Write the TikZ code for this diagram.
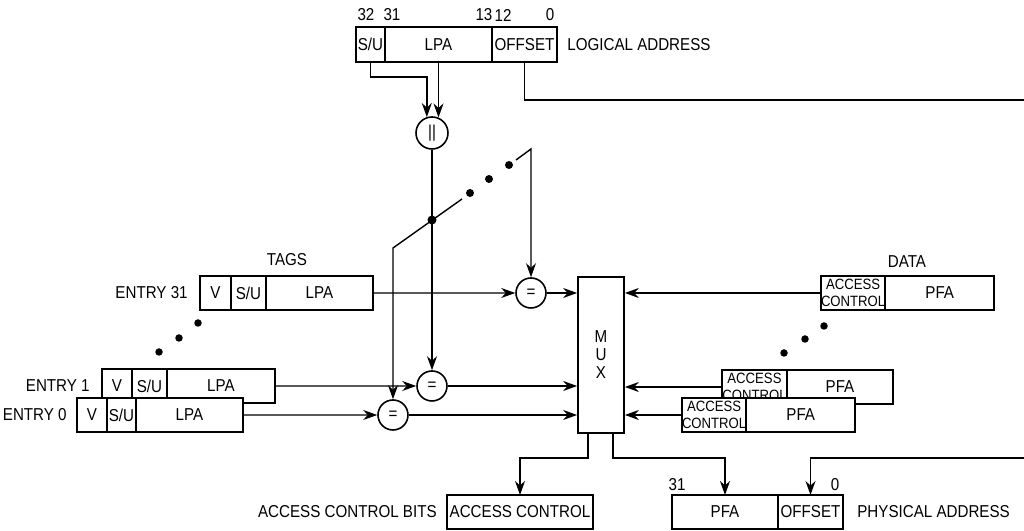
\documentclass[tikz,border=0pt]{standalone}
\usepackage{fontspec}
\setmainfont[FakeStretch=0.88]{Liberation Sans}
\usetikzlibrary{arrows.meta,positioning}
\newcommand{\lblfont}{\fontsize{9.8}{10.2}\selectfont}
\newcommand{\acfont}{\fontsize{8.5}{9.4}\selectfont}
\tikzset{
  >={Stealth[length=2.8mm,width=2mm]},
  fld/.style={draw,fill=white,line width=1pt,inner sep=0pt,outer sep=0pt,
    minimum width=#1,minimum height=6.8mm,font=\lblfont},
  fld/.default=10mm,
  acfld/.style={fld=#1,font=\acfont,align=center},
  cmp/.style={circle,draw,fill=white,line width=0.9pt,minimum size=6mm,
    inner sep=0pt,font=\lblfont},
  flow/.style={->,line width=0.8pt},
  tag/.style={font=\lblfont,inner sep=1mm},
  junction/.style={circle,fill,inner sep=0pt,minimum size=1.8mm},
}
\begin{document}
\begin{tikzpicture}[x=0.2mm,y=-0.2mm]
  \useasboundingbox (0,0) rectangle (1024,531);
  \clip (0,0) rectangle (1024,531);
  % logical address
  \node[fld=5.8mm,minimum height=7mm,anchor=north west] (lsu) at (356,27) {S/U};
  \node[fld=21.4mm,minimum height=7mm,right=0pt of lsu] (llpa) {LPA};
  \node[fld=13mm,minimum height=7mm,right=0pt of llpa] (loff) {OFFSET};
  \node[tag,right=1mm of loff] (lname) {LOGICAL ADDRESS};
  \foreach \x/\b in {366/32,392/31,484/13,503/12,550/0}
    \node[tag] (lb\b) at (\x,15) {\b};
  \node[cmp,minimum size=6.4mm] (cat) at (432,133) {||};
  \draw[flow] (lsu.south) -- ++(0,15) -| (cat.108);
  \draw[flow] (llpa.south) -- (llpa.south |- cat.68);

  % comparators
  \node[cmp] (c31) at (531,293) {=};
  \node[cmp] (c1) at (432,386) {=};
  \node[cmp] (c0) at (393,415) {=};
  \draw[flow] (cat.south) -- (c1.north);
  \node[junction] (jn) at (432,220) {};
  \coordinate (bl) at (393,248);
  \coordinate (br) at (462,199);
  \coordinate (tr0) at (516,160);
  \coordinate (tr) at (531,149);
  \draw[flow] (br) -- (bl) -- (c0.north);
  \draw[flow] (tr0) -- (tr) -- (c31.north);
  \foreach \p in {(470,193),(489,179),(509,165)} \fill \p circle (0.8mm);

  % tags
  \node[tag] (tagsl) at (287,260) {TAGS};
  \node[fld=6.2mm,anchor=north west] (t31v) at (200,276) {V};
  \node[fld=7mm,right=0pt of t31v] (t31s) {S/U};
  \node[fld=21.4mm,right=0pt of t31s] (t31l) {LPA};
  \node[tag,left=1.4mm of t31v] (e31) {ENTRY 31};
  \foreach \p in {(198,323),(179,338),(159,352)} \fill \p circle (0.75mm);
  \node[fld=6mm,anchor=north west] (t1v) at (102,369) {V};
  \node[fld=7mm,right=0pt of t1v] (t1s) {S/U};
  \node[fld=21.6mm,right=0pt of t1s] (t1l) {LPA};
  \node[tag,left=1.4mm of t1v] (e1) {ENTRY 1};
  \node[fld=6mm,anchor=north west] (t0v) at (77,398) {V};
  \node[fld=5.8mm,right=0pt of t0v] (t0s) {S/U};
  \node[fld=21.4mm,right=0pt of t0s] (t0l) {LPA};
  \node[tag,left=1mm of t0v] (e0) {ENTRY 0};
  \draw[flow] (t31l.east) -- (c31.west);
  \draw[flow] (t1l.east) -- (c1.west);
  \draw[flow] (t0l.east) -- (c0.west);

  % mux
  \node[draw,line width=1pt,minimum width=9.2mm,minimum height=31.2mm,inner sep=0pt,
    align=center,font=\lblfont] (mux) at (601,355) {M\\U\\X};
  \draw[flow] (c31.east) -- (c31.east -| mux.west);
  \draw[flow] (c1.east) -- (c1.east -| mux.west);
  \draw[flow] (c0.east) -- (c0.east -| mux.west);

  % data
  \node[tag] (datal) at (907,262) {DATA};
  \node[acfld=12.8mm,anchor=north west] (d31a) at (821,276) {ACCESS\\CONTROL};
  \node[fld=21.8mm,right=0pt of d31a] (d31p) {PFA};
  \foreach \p in {(824,326),(805,339),(784,353)} \fill \p circle (0.75mm);
  \node[acfld=13mm,anchor=north west] (d1a) at (722,370) {ACCESS\\CONTROL};
  \node[fld=21.2mm,right=0pt of d1a] (d1p) {PFA};
  \node[acfld=12.8mm,anchor=north west] (d0a) at (682,398) {ACCESS\\CONTROL};
  \node[fld=21.8mm,right=0pt of d0a] (d0p) {PFA};
  \draw[flow] (d31a.west) -- (d31a.west -| mux.east);
  \draw[flow] (d1a.west) -- (d1a.west -| mux.east);
  \draw[flow] (d0a.west) -- (d0a.west -| mux.east);

  % outputs
  \node[fld=29.2mm,anchor=north west] (acb) at (447,495) {ACCESS CONTROL};
  \node[tag,left=1mm of acb] (acbl) {ACCESS CONTROL BITS};
  \node[fld=21.2mm,anchor=north west] (ppfa) at (672,495) {PFA};
  \node[fld=13mm,right=0pt of ppfa] (poff) {OFFSET};
  \node[tag,right=1.8mm of poff] (pname) {PHYSICAL ADDRESS};
  \node[tag] (pb31) at (677,485) {31};
  \node[tag] (pb0) at (835,485) {0};
  \draw[flow] ([xshift=-2.6mm]mux.south) -- ++(0,24) -| (acb.north);
  \draw[flow] ([xshift=2.4mm]mux.south) -- ++(0,24) -| (ppfa.north);
  \coordinate (rt) at (1040,100);
  \coordinate (rb) at (1040,458);
  \draw[flow] (loff.south) |- (rt) -- (rb) -| (poff.north);
\end{tikzpicture}
\end{document}
